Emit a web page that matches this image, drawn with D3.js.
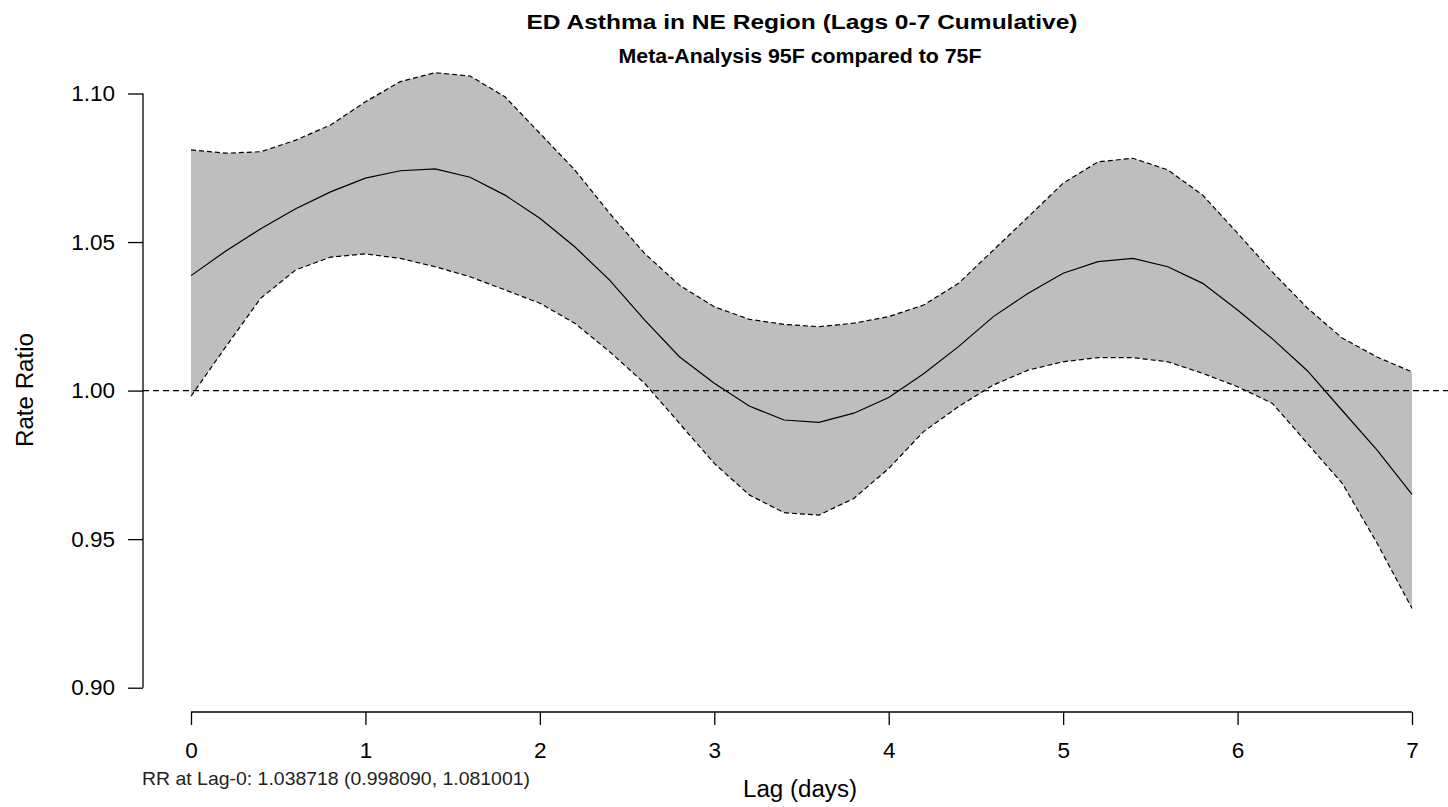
<!DOCTYPE html>
<html>
<head>
<meta charset="utf-8">
<script src="https://cdn.jsdelivr.net/npm/d3@7"></script>
<style>
  html, body { margin: 0; padding: 0; background: #ffffff; }
  svg { display: block; font-family: "Liberation Sans", Arial, sans-serif; }
</style>
</head>
<body>
<svg id="chart" width="1448" height="807"></svg>
<script>
// ---- data ----
const lags = [0,0.2,0.4,0.6,0.8,1.0,1.2,1.4,1.6,1.8,2.0,2.2,2.4,2.6,2.8,3.0,3.2,3.4,3.6,3.8,4.0,4.2,4.4,4.6,4.8,5.0,5.2,5.4,5.6,5.8,6.0,6.2,6.4,6.6,6.8,7.0];
const rr = [1.0387,1.0470,1.0545,1.0612,1.0669,1.0715,1.0740,1.0746,1.0718,1.0658,1.0580,1.0484,1.0372,1.0238,1.0114,1.0025,0.9948,0.9901,0.9893,0.9924,0.9977,1.0057,1.0148,1.0249,1.0328,1.0395,1.0434,1.0445,1.0417,1.0361,1.0271,1.0174,1.0067,0.9933,0.9800,0.9651];
const upper = [1.0810,1.0799,1.0804,1.0843,1.0894,1.0972,1.1040,1.1070,1.1059,1.0989,1.0866,1.0743,1.0597,1.0462,1.0355,1.0282,1.0240,1.0223,1.0215,1.0227,1.0249,1.0288,1.0361,1.0473,1.0585,1.0698,1.0770,1.0782,1.0743,1.0658,1.0530,1.0399,1.0278,1.0177,1.0113,1.0063];
const lower = [0.9981,1.0148,1.0311,1.0406,1.0449,1.0460,1.0445,1.0417,1.0383,1.0339,1.0294,1.0227,1.0131,1.0025,0.9890,0.9755,0.9649,0.9589,0.9581,0.9637,0.9738,0.9862,0.9946,1.0019,1.0069,1.0097,1.0111,1.0111,1.0097,1.0058,1.0013,0.9957,0.9822,0.9688,0.9486,0.9267];
const xTicks = [0,1,2,3,4,5,6,7];
const yTicks = [0.90,0.95,1.00,1.05,1.10];
const refValue = 1.00;
const titleText = "ED Asthma in NE Region (Lags 0-7 Cumulative)";
const subtitleText = "Meta-Analysis 95F compared to 75F";
const xLabel = "Lag (days)";
const yLabel = "Rate Ratio";
const noteText = "RR at Lag-0: 1.038718 (0.998090, 1.081001)";

// ---- layout ----
const svg = d3.select("#chart");
const x = d3.scaleLinear().domain([0, 7]).range([191, 1412]);
const y = d3.scaleLinear().domain([0.90, 1.10]).range([687.7, 93.5]);
const data = lags.map((l, i) => ({lag: l, rr: rr[i], lo: lower[i], hi: upper[i]}));

// band
svg.append("path")
  .datum(data)
  .attr("fill", "#bebebe")
  .attr("stroke", "none")
  .attr("d", d3.area().x(d => x(d.lag)).y0(d => y(d.lo)).y1(d => y(d.hi)));

// reference line
svg.append("line")
  .attr("x1", 143).attr("x2", 1448)
  .attr("y1", y(refValue)).attr("y2", y(refValue))
  .attr("stroke", "#000").attr("stroke-width", 1.3)
  .attr("stroke-dasharray", "6,4");

const line = key => d3.line().x(d => x(d.lag)).y(d => y(d[key]));
svg.append("path").datum(data).attr("fill", "none").attr("stroke", "#000")
  .attr("stroke-width", 1.2).attr("stroke-dasharray", "5,3").attr("d", line("hi"));
svg.append("path").datum(data).attr("fill", "none").attr("stroke", "#000")
  .attr("stroke-width", 1.2).attr("stroke-dasharray", "5,3").attr("d", line("lo"));
svg.append("path").datum(data).attr("fill", "none").attr("stroke", "#000")
  .attr("stroke-width", 1.2).attr("d", line("rr"));

// axes
const yAxis = d3.axisLeft(y).tickValues(yTicks).tickFormat(d3.format(".2f")).tickSize(15).tickPadding(13);
const gy = svg.append("g").attr("transform", "translate(143,0)").call(yAxis);
gy.select(".domain").attr("d", `M0,${y(1.10)}V${y(0.90)}`).attr("stroke", "#000").attr("stroke-width", 1.3);
gy.selectAll(".tick line").attr("stroke", "#000").attr("stroke-width", 1.3);
gy.selectAll(".tick text").attr("font-size", 22.5).attr("fill", "#000")
  .attr("font-family", "Liberation Sans, Arial, sans-serif");

const xAxis = d3.axisBottom(x).tickValues(xTicks).tickFormat(d3.format("d")).tickSize(13).tickPadding(17);
const gx = svg.append("g").attr("transform", "translate(0,712)").call(xAxis);
gx.select(".domain").attr("d", `M${x(0)},0H${x(7)}`).attr("stroke", "#000").attr("stroke-width", 1.3);
gx.selectAll(".tick line").attr("stroke", "#000").attr("stroke-width", 1.3);
gx.selectAll(".tick text").attr("font-size", 22.5).attr("fill", "#000")
  .attr("font-family", "Liberation Sans, Arial, sans-serif");

// titles (centred over the plot region)
svg.append("text").attr("x", 802).attr("y", 29).attr("text-anchor", "middle")
  .attr("font-size", 21).attr("font-weight", "bold").attr("fill", "#000")
  .attr("textLength", 551).attr("lengthAdjust", "spacingAndGlyphs").text(titleText);
svg.append("text").attr("x", 800).attr("y", 63).attr("text-anchor", "middle")
  .attr("font-size", 19.5).attr("font-weight", "bold").attr("fill", "#000")
  .attr("textLength", 363).attr("lengthAdjust", "spacingAndGlyphs").text(subtitleText);

// axis labels
svg.append("text").attr("x", 800).attr("y", 797).attr("text-anchor", "middle")
  .attr("font-size", 23.5).attr("fill", "#000")
  .attr("textLength", 114).attr("lengthAdjust", "spacingAndGlyphs").text(xLabel);
svg.append("text").attr("transform", "translate(33,390) rotate(-90)").attr("text-anchor", "middle")
  .attr("font-size", 23).attr("fill", "#000")
  .attr("textLength", 114).attr("lengthAdjust", "spacingAndGlyphs").text(yLabel);

// note
svg.append("text").attr("x", 142).attr("y", 785).attr("text-anchor", "start")
  .attr("font-size", 18.5).attr("fill", "#222")
  .attr("textLength", 388).attr("lengthAdjust", "spacingAndGlyphs").text(noteText);
</script>
</body>
</html>
